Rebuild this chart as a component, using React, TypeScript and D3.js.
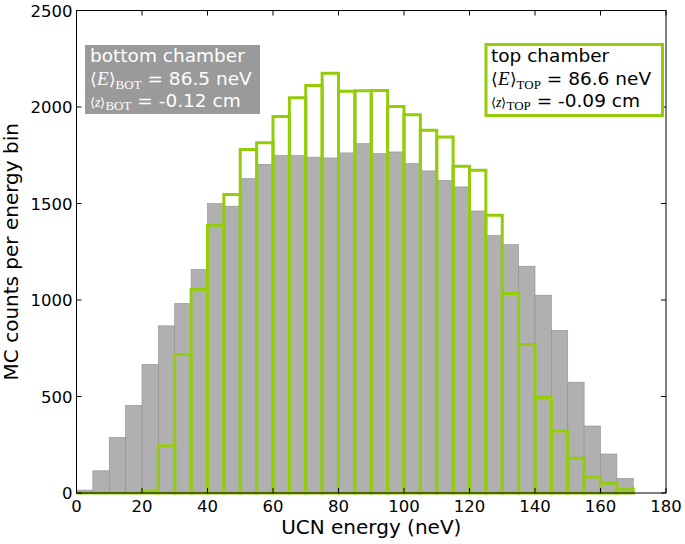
import React, { useEffect } from "react";
import * as d3 from "d3";

// bin edges: 0..170 neV in 5 neV steps
const binWidth = 5;
const binStarts = d3.range(0, 170, binWidth);

// MC counts, bottom chamber (grey filled)
const bottomCounts = [
  15, 115, 288, 454, 666, 866, 982, 1158, 1499, 1486, 1629, 1703, 1748, 1748,
  1740, 1736, 1762, 1810, 1758, 1767, 1707, 1669, 1620, 1586, 1461, 1334, 1287,
  1175, 1025, 842, 574, 347, 202, 76,
];

// MC counts, top chamber (green outline)
const topCounts = [
  0, 0, 0, 0, 8, 245, 718, 1054, 1387, 1546, 1780, 1815, 1951, 2048, 2112, 2175,
  2082, 2084, 2086, 2003, 1960, 1879, 1844, 1693, 1672, 1439, 1034, 770, 495,
  321, 180, 83, 50, 21,
];

const xTicks = [0, 20, 40, 60, 80, 100, 120, 140, 160, 180];
const yTicks = [0, 500, 1000, 1500, 2000, 2500];

const bottomLegend = ["bottom chamber", "BOT", "86.5 neV", "-0.12 cm"];
const topLegend = ["top chamber", "TOP", "86.6 neV", "-0.09 cm"];

const W = 685;
const H = 544;
const green = "#94cc0a";
const sans = "DejaVu Sans";
const serif = "Liberation Serif";

const x = d3.scaleLinear().domain([0, 180]).range([76.5, 666]);
const y = d3.scaleLinear().domain([0, 2500]).range([493, 10.5]);

// outline of one histogram bin, works also for empty bins (flat line)
const binPath = (b: number, v: number) => {
  const p = d3.path();
  p.moveTo(x(b), y(0));
  p.lineTo(x(b), y(v));
  p.lineTo(x(b + binWidth), y(v));
  p.lineTo(x(b + binWidth), y(0));
  p.closePath();
  return p.toString();
};

const Legend = (props: {
  lines: string[];
  x: number;
  y: number;
  w: number;
  h: number;
  fill: string;
  stroke?: string;
  color: string;
}) => {
  const [title, sub, eVal, zVal] = props.lines;
  const tx = props.x + 5;
  return (
    <g>
      <rect
        x={props.x}
        y={props.y}
        width={props.w}
        height={props.h}
        fill={props.fill}
        stroke={props.stroke ?? "none"}
        strokeWidth={3}
      />
      <text x={tx} y={props.y + 17} fill={props.color} fontFamily={sans} fontSize={18.5}>
        {title}
      </text>
      <text x={tx} y={props.y + 40} fill={props.color} fontSize={18.5}>
        <tspan fontFamily={serif} fontSize={17}>⟨</tspan>
        <tspan fontFamily={serif} fontStyle="italic" fontSize={19}>E</tspan>
        <tspan fontFamily={serif} fontSize={17}>⟩</tspan>
        <tspan fontFamily={serif} fontSize={13} dy={4}>{sub}</tspan>
        <tspan fontFamily={sans} dy={-4}>{" = " + eVal}</tspan>
      </text>
      <text x={tx} y={props.y + 62} fill={props.color} fontSize={18.5}>
        <tspan fontFamily={serif} fontSize={13}>⟨</tspan>
        <tspan fontFamily={serif} fontStyle="italic" fontSize={14}>z</tspan>
        <tspan fontFamily={serif} fontSize={13}>⟩</tspan>
        <tspan fontFamily={serif} fontSize={13} dy={3}>{sub}</tspan>
        <tspan fontFamily={sans} dy={-3}>{" = " + zVal}</tspan>
      </text>
    </g>
  );
};

const App = () => {
  useEffect(() => {
    document.body.style.margin = "0";
  }, []);

  const [x0, x1] = x.range();
  const [y0, y1] = y.range();

  return (
    <svg width={W} height={H} style={{ display: "block" }}>
      <rect width={W} height={H} fill="white" />

      {/* bottom chamber bars */}
      <g>
        {binStarts.map((b, i) => (
          <rect
            key={"b" + i}
            x={x(b)}
            y={y(bottomCounts[i])}
            width={x(b + binWidth) - x(b)}
            height={y(0) - y(bottomCounts[i])}
            fill="#b0b0b0"
            stroke="#8e8e8e"
            strokeWidth={0.6}
          />
        ))}
      </g>

      {/* top chamber outline bars */}
      <g>
        {binStarts.map((b, i) => (
          <path
            key={"t" + i}
            d={binPath(b, topCounts[i])}
            fill="none"
            stroke={green}
            strokeWidth={3}
          />
        ))}
      </g>

      {/* frame and ticks */}
      <rect
        x={x0}
        y={y1}
        width={x1 - x0}
        height={y0 - y1}
        fill="none"
        stroke="black"
        strokeWidth={1}
      />
      {xTicks.map((t) => (
        <g key={"x" + t}>
          <line x1={x(t)} x2={x(t)} y1={y0} y2={y0 - 5} stroke="black" />
          <line x1={x(t)} x2={x(t)} y1={y1} y2={y1 + 5} stroke="black" />
          <text
            x={x(t)}
            y={y0 + 18.5}
            textAnchor="middle"
            fontFamily={sans}
            fontSize={16.5}
          >
            {t}
          </text>
        </g>
      ))}
      {yTicks.map((t) => (
        <g key={"y" + t}>
          <line x1={x0} x2={x0 + 5} y1={y(t)} y2={y(t)} stroke="black" />
          <line x1={x1} x2={x1 - 5} y1={y(t)} y2={y(t)} stroke="black" />
          <text
            x={x0 - 4}
            y={y(t) + 6}
            textAnchor="end"
            fontFamily={sans}
            fontSize={16.5}
          >
            {t}
          </text>
        </g>
      ))}

      {/* axis labels */}
      <text
        x={(x0 + x1) / 2}
        y={534}
        textAnchor="middle"
        fontFamily={sans}
        fontSize={20}
      >
        UCN energy (neV)
      </text>
      <text
        transform={`translate(18, ${(y0 + y1) / 2}) rotate(-90)`}
        textAnchor="middle"
        fontFamily={sans}
        fontSize={20}
      >
        MC counts per energy bin
      </text>

      <Legend
        lines={bottomLegend}
        x={85}
        y={45}
        w={175}
        h={69}
        fill="#9a9a9a"
        color="white"
      />
      <Legend
        lines={topLegend}
        x={486}
        y={44.5}
        w={176.5}
        h={71}
        fill="white"
        stroke={green}
        color="black"
      />
    </svg>
  );
};

export default App;
